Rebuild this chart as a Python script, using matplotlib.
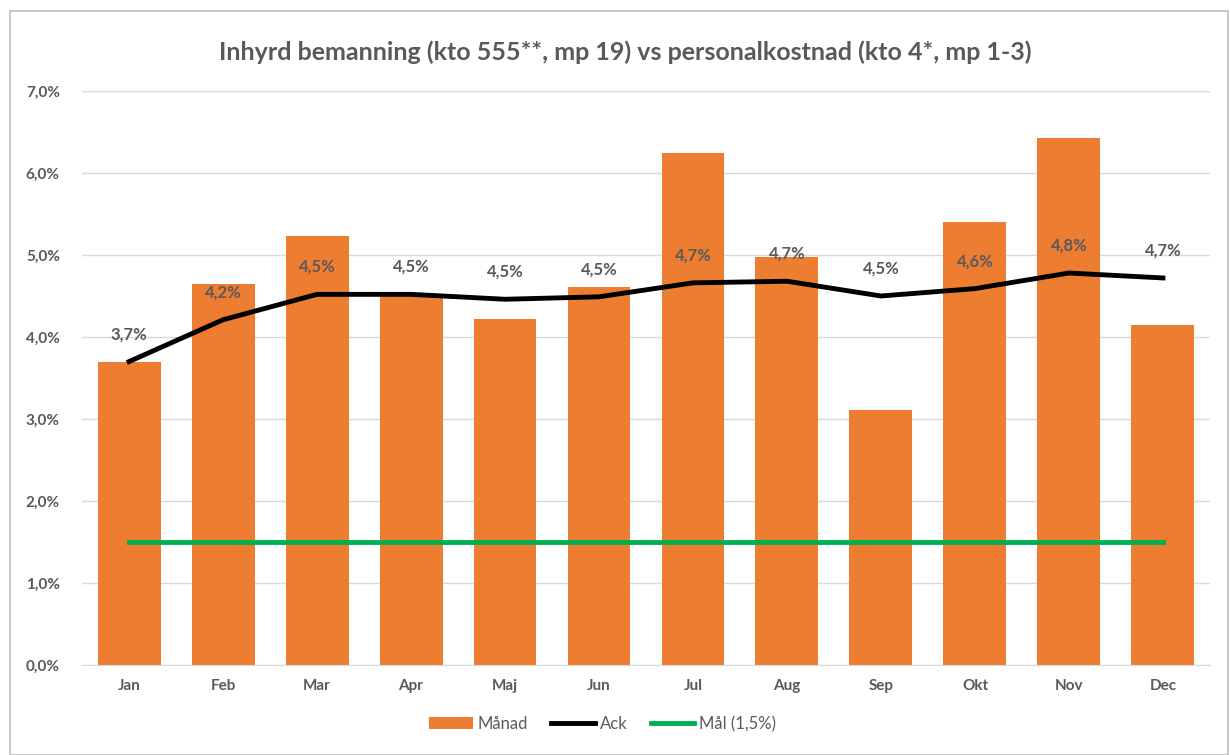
import matplotlib

matplotlib.use("Agg")
import matplotlib.pyplot as plt  # noqa: E402
from matplotlib.patches import Rectangle  # noqa: E402
from matplotlib.ticker import FuncFormatter  # noqa: E402

months = ["Jan", "Feb", "Mar", "Apr", "Maj", "Jun", "Jul", "Aug", "Sep", "Okt", "Nov", "Dec"]
manad = [3.70, 4.65, 5.23, 4.52, 4.22, 4.61, 6.24, 4.98, 3.11, 5.40, 6.43, 4.15]
ack = [3.70, 4.21, 4.52, 4.52, 4.46, 4.49, 4.66, 4.68, 4.50, 4.59, 4.78, 4.72]
mal = [1.5] * 12
yticks = [0, 1, 2, 3, 4, 5, 6, 7]

plt.rcParams["font.family"] = ["Lato", "DejaVu Sans"]
grey = "#595959"

fig = plt.figure(figsize=(12.3, 7.55), dpi=100)
ax = fig.add_axes([0.0667, 0.1192, 0.917, 0.7603])

x = range(len(months))
bars = ax.bar(x, manad, width=0.67, color="#ED7D31", label="Månad", zorder=2)
(l_ack,) = ax.plot(x, ack, color="black", lw=3.5, label="Ack", zorder=3)
(l_mal,) = ax.plot(x, mal, color="#00B050", lw=3.5, label="Mål (1,5%)", zorder=3)

for i, v in enumerate(ack):
    ax.annotate(f"{v:.1f}".replace(".", ",") + "%", (i, v), xytext=(0, 14),
                textcoords="offset points", ha="center", va="bottom",
                fontsize=12, fontweight="bold", color=grey, zorder=4)

ax.set_xlim(-0.5, len(months) - 0.5)
ax.set_ylim(0, 7)
ax.set_yticks(yticks)
ax.yaxis.set_major_formatter(FuncFormatter(lambda v, _: f"{v:.1f}".replace(".", ",") + "%"))
ax.set_xticks(list(x))
ax.set_xticklabels(months)
ax.tick_params(axis="both", length=0, labelsize=11, colors=grey, labelcolor=grey)
ax.tick_params(axis="x", pad=10)
ax.tick_params(axis="y", pad=16)
for lab in ax.get_xticklabels() + ax.get_yticklabels():
    lab.set_fontweight("bold")
ax.grid(axis="y", color="#D9D9D9", lw=1, zorder=0)
for s in ["top", "right", "left"]:
    ax.spines[s].set_visible(False)
ax.spines["bottom"].set_color("#D9D9D9")

fig.text(0.508, 0.931, "Inhyrd bemanning (kto 555**, mp 19) vs personalkostnad (kto 4*, mp 1-3)",
         ha="center", va="center", fontsize=18, fontweight="bold", color=grey)

fig.legend([bars, l_ack, l_mal], ["Månad", "Ack", "Mål (1,5%)"],
           loc="center", bbox_to_anchor=(0.49, 0.041), ncol=3, frameon=False,
           fontsize=12, labelcolor=grey, handlelength=2.6, handletextpad=0.3,
           columnspacing=1.4)

fig.patches.append(Rectangle((0.008, 0.0), 0.99, 0.985, transform=fig.transFigure,
                             fill=False, edgecolor="#BFBFBF", lw=1.2))

fig.savefig("out.png", dpi=100)
